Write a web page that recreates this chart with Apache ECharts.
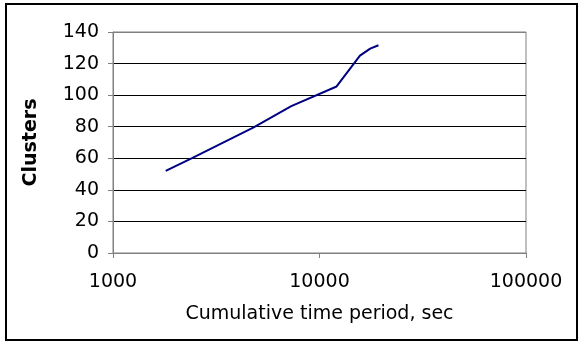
<!DOCTYPE html>
<html><head><meta charset="utf-8">
<script src="https://cdn.jsdelivr.net/npm/echarts@6/dist/echarts.min.js"></script>
<style>html,body{margin:0;padding:0;background:#fff}#c{width:582px;height:343px}</style>
</head><body><div id="c"></div>
<script>
const timeSec = [1800, 2400, 3300, 4800, 7300, 12100, 15700, 17600, 19300];
const clusters = [52, 60, 69, 79.6, 93, 105.5, 125, 129.5, 131.6];
const yTicks = [0, 20, 40, 60, 80, 100, 120, 140];
const xTicks = [1000, 10000, 100000];

const chart = echarts.init(document.getElementById('c'), null, {renderer: 'canvas'});
const font = 'DejaVu Sans';
chart.setOption({
  animation: false,
  backgroundColor: '#fff',
  grid: {left: 113, right: 56, top: 32, bottom: 90, show: true, borderColor: '#808080', borderWidth: 1},
  xAxis: {
    type: 'log', logBase: 10, min: xTicks[0], max: xTicks[xTicks.length - 1],
    name: 'Cumulative time period, sec', nameLocation: 'middle', nameGap: 52,
    nameTextStyle: {fontFamily: font, fontSize: 19, color: '#000'},
    axisLine: {show: true, lineStyle: {color: '#808080', width: 1}},
    axisTick: {show: true, length: 5, inside: false, lineStyle: {color: '#808080'}},
    minorTick: {show: false},
    axisLabel: {fontFamily: font, fontSize: 19, color: '#000', margin: 20,
      formatter: v => String(Math.round(v))},
    splitLine: {show: false}
  },
  yAxis: {
    type: 'value', min: yTicks[0], max: yTicks[yTicks.length - 1], interval: 20,
    name: 'Clusters', nameLocation: 'middle', nameRotate: 90, nameGap: 72,
    nameTextStyle: {fontFamily: font, fontSize: 19, fontWeight: 'bold', color: '#000'},
    axisLine: {show: true, lineStyle: {color: '#808080', width: 1}},
    axisTick: {show: true, length: 5, lineStyle: {color: '#808080'}},
    axisLabel: {fontFamily: font, fontSize: 19, color: '#000', margin: 14},
    splitLine: {show: true, lineStyle: {
      color: ['#808080', '#000', '#000', '#000', '#000', '#000', '#000', '#808080'], width: 1}}
  },
  graphic: [{
    type: 'rect', shape: {x: 6, y: 4, width: 571, height: 336},
    style: {fill: 'none', stroke: '#000', lineWidth: 2}, silent: true, z: 100
  }],
  series: [{
    type: 'line', data: timeSec.map((t, i) => [t, clusters[i]]),
    showSymbol: false, symbol: 'none',
    lineStyle: {color: '#000080', width: 2}
  }]
});
</script></body></html>
